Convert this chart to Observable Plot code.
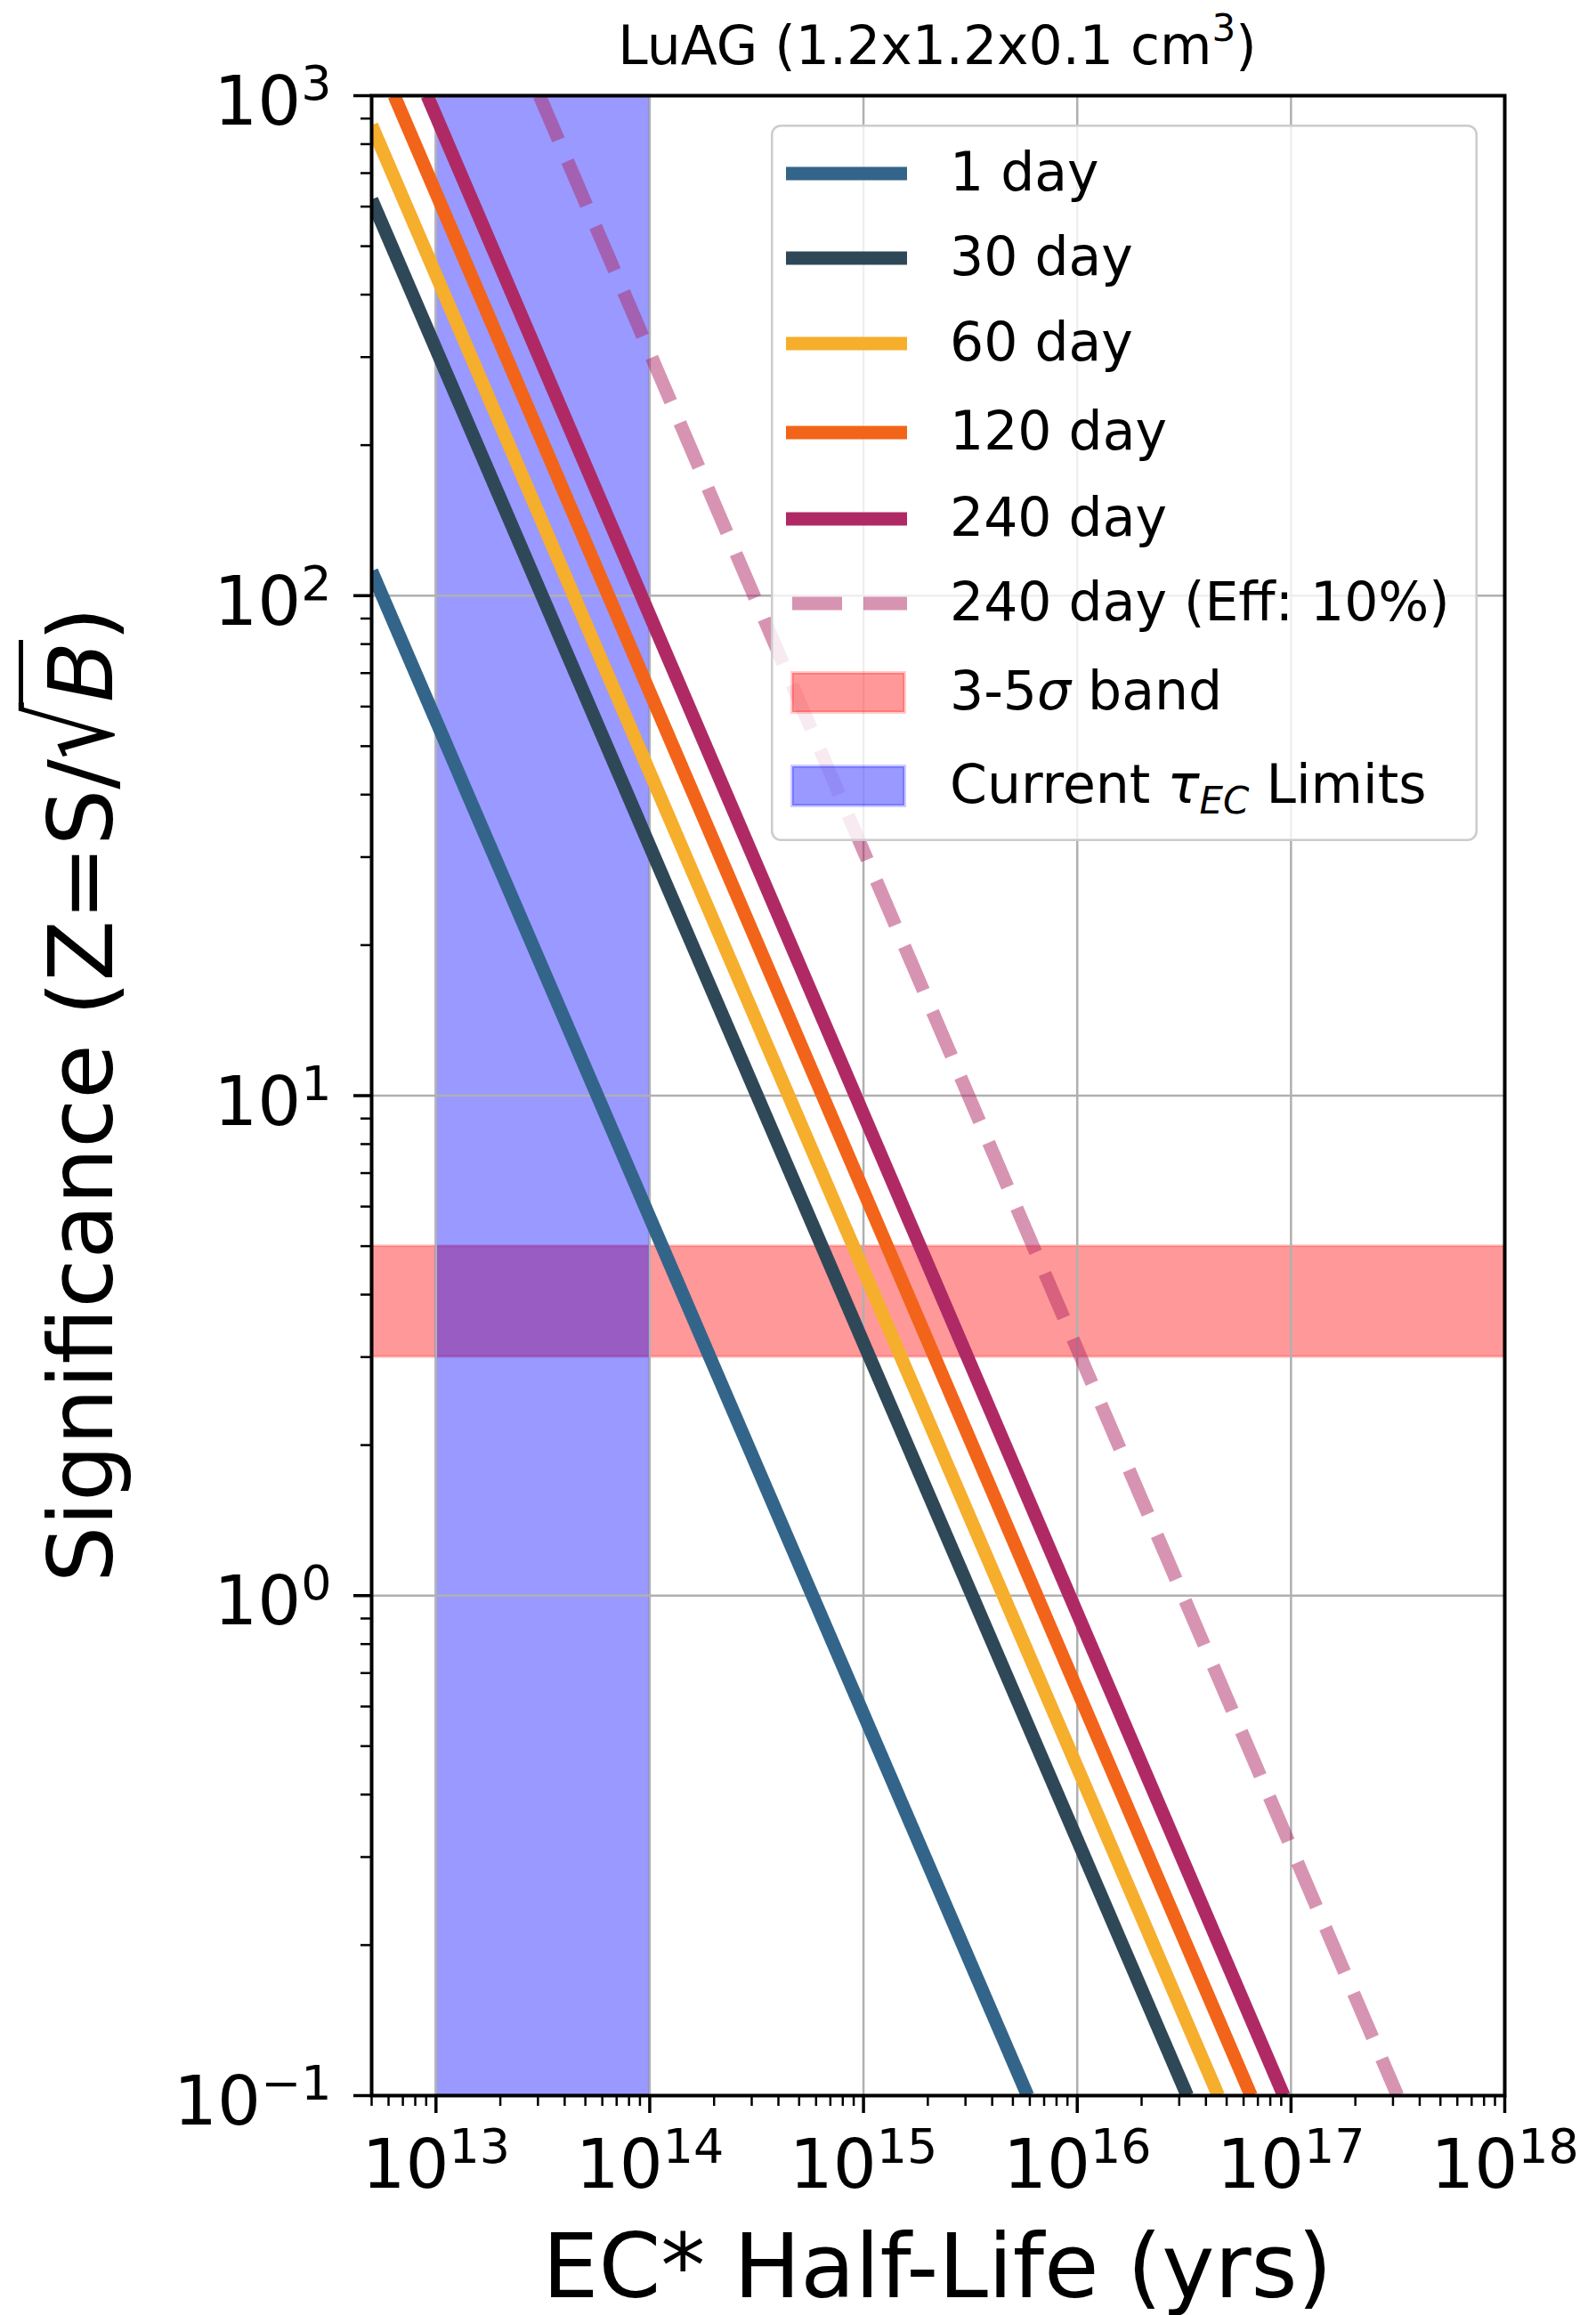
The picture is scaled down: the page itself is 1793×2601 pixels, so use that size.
<!DOCTYPE html>
<html><head><meta charset="utf-8">
<script src="https://cdn.jsdelivr.net/npm/d3@7"></script>
<script src="https://cdn.jsdelivr.net/npm/@observablehq/plot@0.6"></script>
<style>
html,body{margin:0;padding:0;background:#fff;overflow:hidden;}
body{width:1793px;height:2601px;position:relative;font-family:"DejaVu Sans",sans-serif;color:#000;}
#chart{position:absolute;left:0;top:0;}
.txt{position:absolute;white-space:nowrap;text-align:center;}
#title{left:416px;width:1274px;top:21px;font-size:60px;line-height:60px;}
#title .sup{font-size:0.7em;position:relative;top:-26px;}
#xlabel{left:416px;width:1274px;top:2497px;font-size:100px;line-height:100px;}
#ylabel{left:-608px;top:1180px;width:1400px;height:100px;font-size:100px;line-height:100px;transform:rotate(-90deg);}
#ylabel .rad{display:inline-block;transform:scale(1,1.3);transform-origin:50% 85%;}
#ylabel .ov{position:relative;font-style:italic;}
#ylabel .ov::before{content:"";position:absolute;left:-6px;right:-2px;top:-12px;border-top:5px solid #000;}
</style></head><body>
<div id="chart"></div>
<div id="title" class="txt">LuAG (1.2x1.2x0.1 cm<span class="sup">3</span>)</div>
<div id="xlabel" class="txt">EC* Half-Life (yrs)</div>
<div id="ylabel" class="txt">Significance (Z=S/<span class="rad">√</span><span class="ov">B</span>)</div>
<script>
// ---- data ----
const xDomain = [5e12, 1e18];
const yDomain = [0.1, 1000];
const xMajor = [1e13, 1e14, 1e15, 1e16, 1e17, 1e18];
const xMajorExp = ["13", "14", "15", "16", "17", "18"];
const yMajor = [0.1, 1, 10, 100, 1000];
const yMajorExp = ["−1", "0", "1", "2", "3"];

const seriesNames = ["1 day", "30 day", "60 day", "120 day", "240 day", "240 day (Eff: 10%)"];
const seriesColors = ["#33658a", "#2f4858", "#f6ae2d", "#f26419", "#af2a65", "#af2a65"];
const seriesOpacity = [1, 1, 1, 1, 1, 0.5];
const seriesDashed = [false, false, false, false, false, true];
// half-life (yrs) at the two ends of each line, and the significance there
const seriesT = [[5e12, 5.86e15], [5e12, 3.27e16], [5e12, 4.57e16], [6.38e12, 6.5e16], [9.1e12, 9.25e16], [3.05e13, 3.15e17]];
const seriesZ = [[112, 0.1], [620, 0.1], [873, 0.1], [1000, 0.1], [1000, 0.1], [1000, 0.1]];

const sigmaBand = [3, 5];            // 3-5 sigma band
const limitBand = [1e13, 1e14];      // current tau_EC limits

// minor ticks (2..9 x 10^n)
const xMinor = [];
for (let e = 12; e <= 17; e++) for (let m = 2; m <= 9; m++) { const v = m * Math.pow(10, e); if (v >= xDomain[0] && v <= xDomain[1]) xMinor.push(v); }
const yMinor = [];
for (let e = -1; e <= 2; e++) for (let m = 2; m <= 9; m++) yMinor.push(m * Math.pow(10, e));

const lineMarks = seriesNames.map((name, i) => {
  const pts = seriesT[i].map((t, j) => ({t, z: seriesZ[i][j], name}));
  return Plot.line(pts, {
    x: "t", y: "z", stroke: seriesColors[i], strokeOpacity: seriesOpacity[i],
    strokeWidth: 15, strokeLinecap: "butt",
    strokeDasharray: seriesDashed[i] ? "54,26" : null, clip: true
  });
});

const chart = Plot.plot({
  width: 1793, height: 2601,
  marginLeft: 417, marginRight: 103, marginTop: 107, marginBottom: 247,
  style: {fontFamily: "DejaVu Sans", background: "white", color: "black"},
  x: {type: "log", domain: xDomain},
  y: {type: "log", domain: yDomain},
  marks: [
    Plot.rect([sigmaBand], {x1: () => xDomain[0], x2: () => xDomain[1], y1: d => d[0], y2: d => d[1],
      fill: "red", fillOpacity: 0.4, stroke: "red", strokeOpacity: 0.2, strokeWidth: 3, inset: 0}),
    Plot.rect([limitBand], {x1: d => d[0], x2: d => d[1], y1: () => yDomain[0], y2: () => yDomain[1],
      fill: "blue", fillOpacity: 0.4, stroke: "blue", strokeOpacity: 0.2, strokeWidth: 3, inset: 0}),
    Plot.gridX(xMajor, {stroke: "#b0b0b0", strokeOpacity: 1, strokeWidth: 2.5}),
    Plot.gridY(yMajor, {stroke: "#b0b0b0", strokeOpacity: 1, strokeWidth: 2.5}),
    ...lineMarks,
    Plot.frame({stroke: "black", strokeWidth: 4}),
    Plot.axisX(xMajor, {tickSize: 20, strokeWidth: 3.5, tickFormat: () => "", label: null}),
    Plot.axisX(xMinor, {tickSize: 12, strokeWidth: 2.5, tickFormat: () => "", label: null}),
    Plot.axisY(yMajor, {tickSize: 20, strokeWidth: 3.5, tickFormat: () => "", label: null}),
    Plot.axisY(yMinor, {tickSize: 12, strokeWidth: 2.5, tickFormat: () => "", label: null}),
    Plot.text(xMajor, {x: d => d, text: (d, i) => "10^" + xMajorExp[i], frameAnchor: "bottom",
      lineAnchor: "middle", dy: 79, fontSize: 77, fill: "black"}),
    Plot.text(yMajor, {y: d => d, text: (d, i) => "10^" + yMajorExp[i], frameAnchor: "left",
      textAnchor: "end", lineAnchor: "middle", dx: -45, dy: 8, fontSize: 77, fill: "black"})
  ]
});
document.getElementById("chart").appendChild(chart);

// superscript exponents in tick labels
d3.select(chart).selectAll("text").each(function() {
  const content = this.textContent;
  if (!content || content.indexOf("^") < 0) return;
  const s = content.split("^");
  const t = d3.select(this);
  t.selectAll("*").remove();
  t.text(s[0]);
  t.append("tspan").attr("font-size", "0.7em").attr("dy", -28).text(s[1]);
});

// ---- legend ----
const rowY = [55, 150, 246, 346, 443, 538, 638, 743];
const lg = d3.select("body").append("svg")
  .attr("width", 794).attr("height", 805)
  .style("position", "absolute").style("left", "866px").style("top", "140px")
  .style("font-family", "DejaVu Sans");
lg.append("rect").attr("x", 1.25).attr("y", 1.25).attr("width", 791.5).attr("height", 802.5)
  .attr("rx", 10).attr("fill", "white").attr("fill-opacity", 0.8)
  .attr("stroke", "#cccccc").attr("stroke-width", 2.5);
seriesNames.forEach((name, i) => {
  lg.append("line").attr("x1", seriesDashed[i] ? 24 : 17).attr("x2", 153)
    .attr("y1", rowY[i]).attr("y2", rowY[i])
    .attr("stroke", seriesColors[i]).attr("stroke-opacity", seriesOpacity[i])
    .attr("stroke-width", 15).attr("stroke-dasharray", seriesDashed[i] ? "56,24" : null);
  lg.append("text").attr("x", 201).attr("y", rowY[i] + 19).attr("font-size", 60).text(name);
});
const patches = [{fill: "red", row: 6}, {fill: "blue", row: 7}];
patches.forEach(p => {
  lg.append("rect").attr("x", 24).attr("y", rowY[p.row] - 22).attr("width", 126).attr("height", 44)
    .attr("fill", p.fill).attr("fill-opacity", 0.4)
    .attr("stroke", p.fill).attr("stroke-opacity", 0.2).attr("stroke-width", 4);
});
const t1 = lg.append("text").attr("x", 201).attr("y", rowY[6] + 19).attr("font-size", 60);
t1.append("tspan").text("3-5");
t1.append("tspan").attr("font-style", "italic").text("σ");
t1.append("tspan").text(" band");
const t2 = lg.append("text").attr("x", 201).attr("y", rowY[7] + 19).attr("font-size", 60);
t2.append("tspan").text("Current ");
t2.append("tspan").attr("font-style", "italic").text("τ");
t2.append("tspan").attr("font-style", "italic").attr("font-size", 42).attr("dy", 12).text("EC");
t2.append("tspan").attr("dy", -12).text(" Limits");
</script>
</body></html>
